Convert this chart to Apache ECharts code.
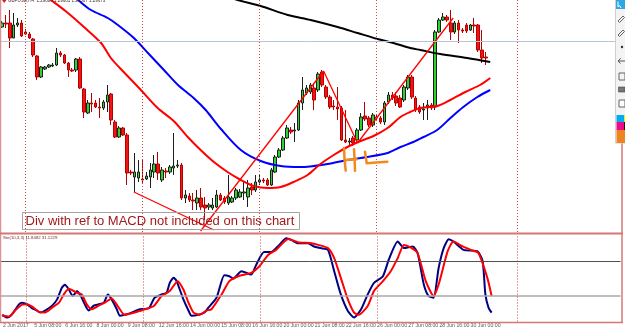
<!DOCTYPE html>
<html><head><meta charset="utf-8">
<script src="https://cdn.jsdelivr.net/npm/echarts@6/dist/echarts.min.js"></script>
<style>html,body{margin:0;padding:0;background:#fff;overflow:hidden}#c{width:625px;height:328px}</style>
</head><body><div id="c"></div>
<script>
const headerText = 'GBPUSD,H4  1.29680 1.29681 1.29507 1.29673';
const stochTitle = 'Sto(10,3,3) 11.8482 31.1229';
const noteText = 'Div with ref to MACD not included on this chart';
const timeLabels = ['2 Jun 2017','5 Jun 08:00','6 Jun 16:00','8 Jun 00:00','9 Jun 08:00','12 Jun 16:00','14 Jun 00:00','15 Jun 08:00','16 Jun 16:00','20 Jun 00:00','21 Jun 08:00','22 Jun 16:00','26 Jun 00:00','27 Jun 08:00','28 Jun 16:00','30 Jun 00:00'];
const opens = [1.3029,1.3037,1.3037,1.3007,1.3033,1.3037,1.3019,1.3015,1.3005,1.2971,
1.2929,1.2945,1.2949,1.2951,1.2953,1.2977,1.2973,1.2957,1.2943,1.2943,
1.2965,1.2905,1.2857,1.2877,1.2877,1.2869,1.2867,1.2879,1.2895,1.2839,
1.2809,1.2827,1.2813,1.2739,1.2729,1.2727,1.2725,1.2725,1.2729,1.2739,
1.2755,1.2723,1.2741,1.2739,1.2747,1.2751,1.2753,1.2687,1.2691,1.2683,
1.2677,1.2687,1.2673,1.2669,1.2667,1.2669,1.2693,1.2687,1.2677,1.2679,
1.2687,1.2689,1.2697,1.2689,1.2709,1.2703,1.2719,1.2723,1.2723,1.2713,
1.2739,1.2769,1.2783,1.2807,1.2823,1.2821,1.2823,1.2877,1.2897,1.2899,
1.2907,1.2903,1.2939,1.2909,1.2889,1.2871,1.2869,1.2867,1.2803,1.2799,
1.2807,1.2803,1.2823,1.2851,1.2847,1.2833,1.2849,1.2847,1.2839,1.2879,
1.2893,1.2891,1.2887,1.2883,1.2907,1.2929,1.2887,1.2869,1.2863,1.2867,
1.2873,1.2869,1.3019,1.3043,1.3049,1.3037,1.3019,1.3037,1.3023,1.3033,
1.3023,1.3033,1.3033,1.2983,1.2969];
const closes = [1.3037,1.3035,1.3007,1.3033,1.3037,1.3011,1.3015,1.3007,1.2973,1.2929,
1.2949,1.2949,1.2953,1.2953,1.2977,1.2973,1.2957,1.2943,1.2941,1.2965,
1.2907,1.2859,1.2877,1.2875,1.2869,1.2867,1.2879,1.2893,1.2843,1.2809,
1.2827,1.2813,1.2737,1.2737,1.2739,1.2739,1.2723,1.2731,1.2743,1.2755,
1.2737,1.2743,1.2739,1.2749,1.2751,1.2753,1.2687,1.2693,1.2683,1.2681,
1.2687,1.2669,1.2667,1.2673,1.2673,1.2693,1.2683,1.2679,1.2689,1.2687,
1.2703,1.2699,1.2699,1.2707,1.2703,1.2719,1.2723,1.2721,1.2713,1.2743,
1.2769,1.2783,1.2807,1.2827,1.2819,1.2823,1.2877,1.2903,1.2907,1.2913,
1.2883,1.2935,1.2913,1.2889,1.2869,1.2869,1.2865,1.2803,1.2799,1.2801,
1.2797,1.2823,1.2849,1.2845,1.2833,1.2853,1.2847,1.2839,1.2877,1.2893,
1.2887,1.2877,1.2869,1.2909,1.2929,1.2889,1.2863,1.2859,1.2865,1.2873,
1.2867,1.3019,1.3043,1.3049,1.3043,1.3019,1.3037,1.3023,1.3021,1.3021,
1.3033,1.3031,1.2983,1.2967,1.2967];
const lows = [1.3027,1.3027,1.2987,1.3007,1.3029,1.3009,1.3013,1.3005,1.2969,1.2923,
1.2927,1.2943,1.2947,1.2949,1.2951,1.2969,1.2955,1.2929,1.2939,1.2939,
1.2905,1.2847,1.2855,1.2859,1.2867,1.2847,1.2863,1.2859,1.2833,1.2807,
1.2807,1.2811,1.2713,1.2733,1.2699,1.2719,1.2717,1.2723,1.2707,1.2727,
1.2723,1.2719,1.2727,1.2735,1.2733,1.2747,1.2683,1.2677,1.2679,1.2663,
1.2663,1.2663,1.2643,1.2663,1.2663,1.2667,1.2681,1.2675,1.2673,1.2677,
1.2683,1.2687,1.2683,1.2669,1.2693,1.2699,1.2713,1.2717,1.2711,1.2711,
1.2737,1.2767,1.2781,1.2805,1.2815,1.2799,1.2821,1.2863,1.2893,1.2895,
1.2863,1.2899,1.2909,1.2885,1.2865,1.2863,1.2843,1.2801,1.2797,1.2793,
1.2791,1.2799,1.2821,1.2841,1.2829,1.2829,1.2841,1.2835,1.2833,1.2875,
1.2883,1.2871,1.2867,1.2879,1.2903,1.2885,1.2859,1.2855,1.2843,1.2843,
1.2863,1.2863,1.3017,1.3041,1.3039,1.3003,1.3015,1.2997,1.3017,1.3017,
1.3021,1.3017,1.2979,1.2957,1.2953];
const highs = [1.3041,1.3053,1.3063,1.3057,1.3047,1.3043,1.3025,1.3019,1.3007,1.2973,
1.2951,1.2951,1.2955,1.2957,1.2987,1.2981,1.2975,1.2959,1.2947,1.2967,
1.2969,1.2907,1.2883,1.2897,1.2883,1.2887,1.2883,1.2913,1.2897,1.2843,
1.2831,1.2829,1.2817,1.2743,1.2777,1.2763,1.2763,1.2739,1.2757,1.2773,
1.2779,1.2749,1.2747,1.2753,1.2817,1.2763,1.2757,1.2703,1.2697,1.2697,
1.2703,1.2707,1.2689,1.2677,1.2687,1.2703,1.2697,1.2691,1.2733,1.2691,
1.2707,1.2705,1.2719,1.2723,1.2717,1.2733,1.2733,1.2727,1.2727,1.2747,
1.2773,1.2787,1.2811,1.2833,1.2829,1.2837,1.2883,1.2929,1.2913,1.2917,
1.2917,1.2939,1.2943,1.2913,1.2893,1.2883,1.2909,1.2871,1.2863,1.2807,
1.2811,1.2827,1.2857,1.2879,1.2851,1.2857,1.2853,1.2851,1.2881,1.2899,
1.2899,1.2899,1.2893,1.2913,1.2933,1.2933,1.2891,1.2873,1.2877,1.2883,
1.2877,1.3023,1.3047,1.3057,1.3053,1.3063,1.3041,1.3043,1.3027,1.3037,
1.3035,1.3047,1.3035,1.3023,1.2979];
// moving averages: [bar position, price]
const maRed = [[4.9,1.3133],[8.7,1.3107],[12.6,1.3083],[16.9,1.3057],[21.0,1.3029],[25.4,1.2997],[27.9,1.2967],[31.2,1.2939],[35.6,1.2903],[39.9,1.2867],[44.0,1.2841],[47.6,1.2809],[50.9,1.2783],[54.3,1.2759],[57.8,1.2739],[61.2,1.2723],[64.5,1.2711],[68.1,1.2707],[71.4,1.2709],[74.7,1.2719],[78.3,1.2733],[81.6,1.2755],[85.0,1.2773],[88.5,1.2789],[91.9,1.2801],[95.2,1.2811],[98.8,1.2827],[102.1,1.2849],[104.6,1.2859],[107.2,1.2867],[111.6,1.2871],[114.9,1.2883],[118.7,1.2899],[122.5,1.2913],[125.1,1.2927]];
const maBlue = [[12.6,1.3127],[16.4,1.3103],[19.5,1.3083],[22.8,1.3063],[27.1,1.3047],[29.7,1.3033],[33.8,1.3007],[37.4,1.2977],[41.5,1.2943],[45.1,1.2913],[49.1,1.2887],[52.2,1.2863],[56.1,1.2825],[61.2,1.2783],[66.3,1.2761],[71.4,1.2751],[76.5,1.2749],[83.4,1.2755],[88.5,1.2763],[93.6,1.2769],[98.8,1.2777],[102.1,1.2789],[105.4,1.2799],[108.0,1.2809],[111.5,1.2823],[114.9,1.2847],[118.2,1.2869],[121.8,1.2889],[125.1,1.2903]];
const maBlack = [[50.9,1.3107],[60.4,1.3083],[66.3,1.3071],[73.2,1.3053],[79.1,1.3043],[86.0,1.3029],[91.1,1.3017],[96.2,1.3005],[100.3,1.2997],[104.6,1.2987],[107.2,1.2983],[112.3,1.2975],[119.2,1.2967],[125.1,1.2959]];
const trendLines = [
  [[33.8,1.2699],[54.3,1.2623]],
  [[50.9,1.2621],[82.4,1.2941]],
  [[82.4,1.2941],[91.1,1.2797]],
  [[91.1,1.2797],[115.6,1.3047]]
];
const bidPrice = 1.2967;
const separators = [6, 36, 66, 96, 132];
const stochMain = [[-0.2,7.7],[1.1,4.6],[2.3,8.3],[4.1,19.8],[4.9,21.7],[6.2,19.8],[7.5,15.2],[8.7,12.6],[9.5,10.3],[10.8,12.6],[12.6,18.3],[13.9,25.5],[15.1,38.9],[15.9,42.3],[16.9,36.9],[17.9,29.4],[19.0,35.1],[20.2,27.4],[22.0,12.6],[23.3,18.3],[24.6,19.8],[25.9,21.7],[26.9,31.2],[27.9,25.5],[29.2,14.1],[30.0,6.5],[31.2,7.7],[33.0,10.3],[35.1,14.1],[37.4,15.2],[38.9,27.4],[40.7,31.2],[42.0,33.1],[42.8,44.6],[43.8,50.3],[44.5,47.2],[46.3,25.5],[47.6,12.6],[48.4,6.5],[50.2,7.7],[51.7,10.3],[52.7,16.0],[54.8,27.4],[56.8,53.4],[58.1,52.2],[59.1,49.5],[61.2,57.9],[63.7,54.1],[65.0,65.5],[67.0,80.0],[68.8,80.0],[70.9,88.3],[72.7,96.0],[74.0,94.1],[75.7,90.3],[78.3,90.3],[79.8,86.5],[81.6,84.6],[83.4,82.6],[85.0,57.9],[86.7,31.2],[88.5,12.2],[90.1,4.6],[91.9,14.1],[93.6,31.2],[95.2,44.6],[97.5,52.2],[99.0,71.2],[101.3,92.2],[102.9,84.6],[105.2,86.5],[106.4,78.9],[108.0,42.6],[109.2,29.4],[110.5,27.4],[111.8,61.7],[113.1,84.6],[114.4,94.9],[115.6,92.2],[118.2,82.6],[121.8,80.8],[123.1,69.4],[123.8,31.2],[124.6,16.0],[125.4,10.3]];
const stochSignal = [[-0.2,6.9],[1.6,5.7],[3.1,12.6],[4.9,19.4],[6.2,19.8],[7.5,17.1],[9.2,11.1],[10.8,10.3],[12.6,16.0],[14.4,21.7],[15.6,31.2],[16.9,37.7],[19.0,33.1],[20.2,31.2],[21.5,19.8],[22.8,14.1],[24.6,18.3],[26.1,21.7],[27.9,26.6],[29.7,16.0],[31.2,7.7],[33.8,10.3],[36.4,14.1],[38.7,17.9],[40.7,29.4],[42.8,35.1],[44.8,46.5],[46.3,36.9],[47.6,21.7],[48.9,10.3],[50.4,7.7],[52.2,12.6],[53.5,14.1],[56.1,31.2],[58.1,46.5],[60.4,52.2],[63.7,56.0],[65.8,63.7],[68.1,76.9],[70.1,82.6],[73.2,95.2],[75.7,91.4],[79.1,90.3],[80.9,88.3],[83.4,84.6],[85.0,73.1],[86.7,50.3],[88.5,25.5],[90.1,10.3],[91.3,7.7],[93.6,17.9],[95.2,35.1],[97.5,46.5],[99.5,57.9],[101.3,73.1],[102.9,88.3],[104.6,85.4],[106.4,78.9],[108.5,46.5],[110.5,29.4],[111.8,42.6],[114.1,80.8],[115.6,92.2],[118.0,86.5],[120.0,82.6],[122.0,78.9],[124.3,50.3],[125.4,29.4]];
const stochLevels = [70, 30];

const N = 159;
const cats = Array.from({length: N}, (_, i) => (i % 8 === 0 && i / 8 < timeLabels.length) ? timeLabels[i / 8] : '');
const candles = opens.map((o, i) => [o, closes[i], lows[i], highs[i]]);
const gridL = -1.1, gridW = 621.7;
const sepStyle = {color: '#d04848', width: 1, type: [1, 2]};

const chart = echarts.init(document.getElementById('c'), null, {renderer: 'canvas'});
const lineBase = {type: 'line', showSymbol: false, symbol: 'none', silent: true, animation: false};

const series = [
  {
    type: 'candlestick', xAxisIndex: 0, yAxisIndex: 0, data: candles, barWidth: 3, silent: true,
    itemStyle: {color: '#2fd12f', color0: '#f01515', borderColor: '#1e1e1e', borderColor0: '#b80000', borderWidth: 1},
    markLine: {
      symbol: 'none', silent: true, label: {show: false}, animation: false,
      data: [{yAxis: bidPrice, lineStyle: {color: '#b7c5d9', width: 1, type: 'solid'}}]
        .concat(separators.map(v => ({xAxis: v, lineStyle: sepStyle})))
    }
  },
  Object.assign({}, lineBase, {xAxisIndex: 1, yAxisIndex: 0, data: maBlack, smooth: 0.3, lineStyle: {color: '#000000', width: 2}}),
  Object.assign({}, lineBase, {xAxisIndex: 1, yAxisIndex: 0, data: maBlue, smooth: 0.3, lineStyle: {color: '#0000ff', width: 2}}),
  Object.assign({}, lineBase, {xAxisIndex: 1, yAxisIndex: 0, data: maRed, smooth: 0.3, lineStyle: {color: '#ff0000', width: 2}})
];
trendLines.forEach(t => series.push(Object.assign({}, lineBase, {xAxisIndex: 1, yAxisIndex: 0, data: t, lineStyle: {color: '#ff0000', width: 1.3}})));
series.push(Object.assign({}, lineBase, {
  xAxisIndex: 3, yAxisIndex: 1, data: stochMain, smooth: 0.2, lineStyle: {color: '#000080', width: 2},
  markLine: {
    symbol: 'none', silent: true, label: {show: false}, animation: false,
    data: [{yAxis: stochLevels[0], lineStyle: {color: '#505050', width: 1, type: 'solid'}},
           {yAxis: stochLevels[1], lineStyle: {color: '#a8a8a8', width: 1.5, type: 'solid'}}]
      .concat(separators.map(v => ({xAxis: v, lineStyle: sepStyle})))
  }
}));
series.push(Object.assign({}, lineBase, {xAxisIndex: 3, yAxisIndex: 1, data: stochSignal, smooth: 0.2, lineStyle: {color: '#ff0000', width: 2}}));

const orange = '#f28a1e';
const hl = (pts) => ({type: 'polyline', shape: {points: pts}, style: {stroke: orange, lineWidth: 2.5, fill: null, lineCap: 'round', lineJoin: 'round'}, z: 50});
const border = '#d67777';
const graphics = [
  {type: 'line', shape: {x1: 0.5, y1: 0, x2: 0.5, y2: 322}, style: {stroke: '#e09090', lineWidth: 1.5}, z: 40},
  {type: 'line', shape: {x1: 0, y1: 233.5, x2: 623, y2: 233.5}, style: {stroke: border, lineWidth: 2}, z: 40},
  {type: 'line', shape: {x1: 0, y1: 322.5, x2: 623, y2: 322.5}, style: {stroke: border, lineWidth: 1.5}, z: 40},
  {type: 'line', shape: {x1: 622, y1: 0, x2: 622, y2: 322}, style: {stroke: border, lineWidth: 1.5}, z: 40},
  {type: 'polygon', shape: {points: [[2, 0], [6.5, 0], [4.25, 3]]}, style: {fill: '#d02020'}, z: 40},
  {type: 'text', x: 8, y: -1.5, style: {text: headerText, fontSize: 4.5, fontFamily: 'Liberation Sans', fill: '#4a2b2b'}, z: 40},
  {type: 'text', x: 3, y: 236, style: {text: stochTitle, fontSize: 4.3, fontFamily: 'Liberation Sans', fill: '#7a2a2a'}, z: 40},
  {type: 'rect', shape: {x: 22.5, y: 212.5, width: 277, height: 17}, style: {fill: null, stroke: '#ab9f9f', lineWidth: 1}, z: 45},
  {type: 'text', x: 25.5, y: 221.3, style: {text: noteText, fontSize: 13, fontFamily: 'Liberation Sans', fill: '#a11b1b', verticalAlign: 'middle'}, z: 45},
  hl([[344, 148], [344.6, 160], [345.7, 170.7]]),
  hl([[345.7, 160], [351, 159.6], [356.7, 159.3]]),
  hl([[354, 149.3], [354.6, 160], [355, 170.7]]),
  hl([[365, 151.7], [365.8, 157], [366.7, 163.3], [376, 162.5], [387.3, 161.7]]),
  // toolbar
  {type: 'rect', shape: {x: 615.5, y: -1, width: 11, height: 144}, style: {fill: '#f3f3f3', stroke: '#cfcfcf', lineWidth: 1}, z: 60},
  {type: 'rect', shape: {x: 616, y: 0, width: 9, height: 9}, style: {fill: '#2ea6e4'}, z: 61},
  {type: 'polyline', shape: {points: [[618, 1.5], [618, 7], [619.5, 5.5], [621, 8]]}, style: {stroke: '#ffffff', lineWidth: 1, fill: null}, z: 62},
  {type: 'polyline', shape: {points: [[618, 21], [623, 16], [624.5, 17.5], [619.5, 22.5], [618, 21]]}, style: {stroke: '#666', lineWidth: 1, fill: null}, z: 62},
  {type: 'polyline', shape: {points: [[618, 35], [623, 30], [624.5, 31.5], [619.5, 36.5], [618, 35]]}, style: {stroke: '#666', lineWidth: 1, fill: null}, z: 62},
  {type: 'circle', shape: {cx: 622, cy: 47, r: 1.2}, style: {fill: '#333'}, z: 62},
  {type: 'polyline', shape: {points: [[625, 61], [618, 61], [620.5, 58.5], [618, 61], [620.5, 63.5]]}, style: {stroke: '#555', lineWidth: 1, fill: null}, z: 62},
  {type: 'rect', shape: {x: 619, y: 73, width: 6, height: 7}, style: {fill: null, stroke: '#666', lineWidth: 1}, z: 62},
  {type: 'rect', shape: {x: 618.5, y: 87, width: 6.5, height: 5}, style: {fill: '#777', stroke: '#444', lineWidth: 0.6}, z: 62},
  {type: 'rect', shape: {x: 619, y: 100, width: 6, height: 7}, style: {fill: '#fff', stroke: '#666', lineWidth: 1}, z: 62},
  {type: 'rect', shape: {x: 616.5, y: 115, width: 7.5, height: 7}, style: {fill: '#00aeef'}, z: 62},
  {type: 'rect', shape: {x: 624, y: 115, width: 1, height: 7}, style: {fill: '#ffe600'}, z: 62},
  {type: 'rect', shape: {x: 616.5, y: 122, width: 7.5, height: 8}, style: {fill: '#ec0a8c'}, z: 62},
  {type: 'rect', shape: {x: 624, y: 122, width: 1, height: 8}, style: {fill: '#111'}, z: 62},
  {type: 'rect', shape: {x: 616.5, y: 130, width: 8.5, height: 13}, style: {fill: '#ee8420'}, z: 62}
];

chart.setOption({
  animation: false,
  backgroundColor: '#ffffff',
  grid: [
    {left: gridL, top: 0, width: gridW, height: 232},
    {left: gridL, top: 234.75, width: gridW, height: 87.5}
  ],
  xAxis: [
    {type: 'category', gridIndex: 0, data: cats, boundaryGap: true, show: false},
    {type: 'value', gridIndex: 0, min: -0.5, max: N - 0.5, show: false},
    {type: 'category', gridIndex: 1, data: cats, boundaryGap: true,
      axisLine: {show: false}, axisTick: {show: false}, splitLine: {show: false},
      axisLabel: {interval: 0, align: 'left', fontSize: 5.2, fontFamily: 'Liberation Sans', color: '#5a5a5a', margin: 1.5}},
    {type: 'value', gridIndex: 1, min: -0.5, max: N - 0.5, show: false}
  ],
  yAxis: [
    {type: 'value', gridIndex: 0, min: 1.2619, max: 1.3083, show: false},
    {type: 'value', gridIndex: 1, min: 0, max: 100, show: false}
  ],
  series: series,
  graphic: graphics
});
</script></body></html>
